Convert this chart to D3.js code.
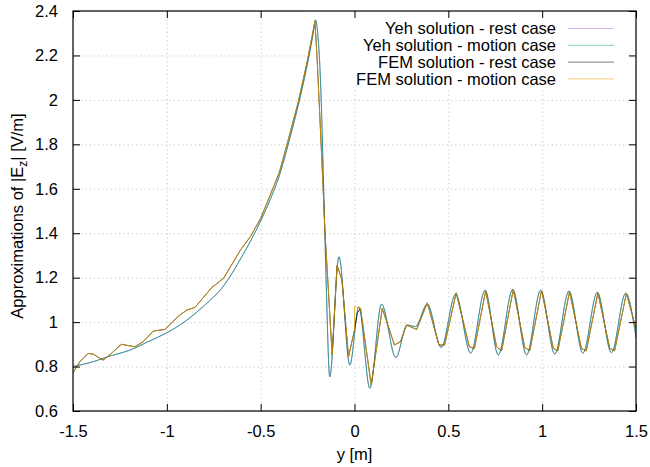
<!DOCTYPE html>
<html>

<head>
    <meta charset=utf-8 />
    <title>Approximations of |Ez|</title>
    <script src="https://cdn.jsdelivr.net/npm/d3@7"></script>
    <style>
        html,
        body {
            margin: 0;
            padding: 0;
            background: #fff;
        }

        svg text {
            font-family: "Liberation Sans", Arial, sans-serif;
            font-size: 16.5px;
            fill: #000;
        }

        .grid line {
            stroke: #c8c8c8;
            stroke-dasharray: 1.2, 3;
        }

        .grid path {
            display: none;
        }
    </style>
</head>

<body>
    <div id="svg-canvas"></div>
    <script>
        // tick values of both axes
        var xTicks = [-1.5, -1, -0.5, 0, 0.5, 1, 1.5];
        var yTicks = [0.6, 0.8, 1, 1.2, 1.4, 1.6, 1.8, 2, 2.2, 2.4];

        // series names, in drawing order
        var seriesNames = [
            'Yeh solution - rest case',
            'Yeh solution - motion case',
            'FEM solution - rest case',
            'FEM solution - motion case'
        ];
        var seriesColors = ['#9400d3', '#009e73', '#000000', '#e69f00'];
        var lineOpacity = [0.45, 0.75, 0.75, 0.75];
        var keyOpacity = [0.3, 0.5, 0.5, 0.55];

        // [y, |Ez|]
        var yehSolution = [
            [-1.5, 0.80], [-1.4, 0.82], [-1.3, 0.848], [-1.2, 0.873], [-1.1, 0.912],
            [-1.0, 0.952], [-0.9, 1.005], [-0.8, 1.075], [-0.7, 1.16], [-0.6, 1.295],
            [-0.5, 1.455], [-0.45, 1.55], [-0.4, 1.66], [-0.35, 1.81], [-0.3, 1.975],
            [-0.25, 2.165], [-0.22, 2.30], [-0.208, 2.36], [-0.196, 2.30], [-0.18, 2.06],
            [-0.163, 1.56], [-0.15, 1.15], [-0.132, 0.754], [-0.083, 1.294], [-0.025, 0.807],
            [0.023, 1.069], [0.082, 0.702], [0.144, 1.081], [0.22, 0.841], [0.281, 0.987],
            [0.325, 0.98], [0.388, 1.081], [0.462, 0.886], [0.539, 1.126], [0.619, 0.86],
            [0.696, 1.144], [0.766, 0.852], [0.843, 1.147], [0.917, 0.852], [0.992, 1.144],
            [1.067, 0.856], [1.143, 1.14], [1.217, 0.86], [1.294, 1.134], [1.369, 0.862],
            [1.445, 1.13], [1.5, 0.93]
        ];

        var femRest = [
            [-1.5, 0.772], [-1.463, 0.822], [-1.42, 0.859], [-1.393, 0.856], [-1.34, 0.829],
            [-1.305, 0.852], [-1.242, 0.90], [-1.17, 0.889], [-1.126, 0.912], [-1.072, 0.96],
            [-1.01, 0.967], [-0.938, 1.027], [-0.894, 1.054], [-0.85, 1.066], [-0.76, 1.156],
            [-0.698, 1.197], [-0.608, 1.324], [-0.555, 1.384], [-0.5, 1.467], [-0.45, 1.57],
            [-0.4, 1.675], [-0.35, 1.83], [-0.3, 1.99], [-0.25, 2.18], [-0.211, 2.352],
            [-0.2, 2.2], [-0.185, 1.93], [-0.168, 1.62], [-0.158, 1.414], [-0.119, 0.852],
            [-0.093, 1.257], [-0.067, 1.19], [-0.032, 0.844], [0.0, 0.964], [0.015, 1.04],
            [0.032, 1.062], [0.089, 0.717], [0.148, 1.062], [0.213, 0.897], [0.245, 0.912],
            [0.277, 0.987], [0.331, 0.967], [0.388, 1.087], [0.45, 0.897], [0.48, 0.897],
            [0.542, 1.132], [0.612, 0.889], [0.639, 0.882], [0.699, 1.141], [0.757, 0.889],
            [0.784, 0.871], [0.846, 1.147], [0.907, 0.886], [0.934, 0.871], [0.997, 1.144],
            [1.059, 0.882], [1.083, 0.87], [1.146, 1.137], [1.209, 0.882], [1.235, 0.87],
            [1.297, 1.132], [1.36, 0.882], [1.386, 0.871], [1.449, 1.13], [1.5, 0.97]
        ];

        // motion case: same mesh, with the jump at y = 0
        var femMotion = femRest.filter(d => d[0] !== 0.015);
        femMotion.splice(femMotion.findIndex(d => d[0] === 0.0) + 1, 0, [0.0, 1.069]);

        var margin = { top: 11, right: 14, bottom: 56, left: 73 };
        var width = 650 - margin.left - margin.right;
        var height = 467 - margin.top - margin.bottom;

        var svg = d3.select('#svg-canvas').append('svg')
            .attr('width', 650)
            .attr('height', 467);

        var canvas = svg.append('g')
            .attr('transform', 'translate(' + margin.left + ',' + margin.top + ')');

        var x = d3.scaleLinear().domain([-1.5, 1.5]).range([0, width]);
        var y = d3.scaleLinear().domain([0.6, 2.4]).range([height, 0]);

        // grid
        canvas.append('g')
            .attr('class', 'grid')
            .attr('transform', `translate(0, ${height})`)
            .call(d3.axisBottom(x).tickValues(xTicks).tickSize(-height).tickFormat(''));
        canvas.append('g')
            .attr('class', 'grid')
            .call(d3.axisLeft(y).tickValues(yTicks).tickSize(-width).tickFormat(''));

        // key area blanks the grid
        canvas.append('rect')
            .attr('x', 306 - margin.left)
            .attr('y', 0)
            .attr('width', 628 - 306)
            .attr('height', 88 - margin.top)
            .attr('fill', '#fff');

        canvas.append('clipPath').attr('id', 'plot-clip')
            .append('rect').attr('width', width).attr('height', height);

        var smooth = d3.line().x(d => x(d[0])).y(d => y(d[1])).curve(d3.curveMonotoneX);
        var straight = d3.line().x(d => x(d[0])).y(d => y(d[1]));

        var seriesData = [yehSolution, yehSolution, femRest, femMotion];
        var seriesLine = [smooth, smooth, straight, straight];

        var lines = canvas.append('g').attr('clip-path', 'url(#plot-clip)');
        seriesData.forEach(function (data, i) {
            lines.append('path')
                .datum(data)
                .attr('d', seriesLine[i])
                .attr('fill', 'none')
                .attr('stroke', seriesColors[i])
                .attr('stroke-width', 1)
                .attr('stroke-opacity', lineOpacity[i]);
        });

        // axes, ticks inward on all four sides
        var fmt = d => String(d);
        canvas.append('g')
            .attr('transform', `translate(0, ${height})`)
            .call(d3.axisBottom(x).tickValues(xTicks).tickSize(-7).tickPadding(14).tickFormat(fmt));
        canvas.append('g')
            .call(d3.axisTop(x).tickValues(xTicks).tickSize(-7).tickFormat(''));
        canvas.append('g')
            .call(d3.axisLeft(y).tickValues(yTicks).tickSize(-7).tickPadding(15).tickFormat(fmt));
        canvas.append('g')
            .attr('transform', `translate(${width}, 0)`)
            .call(d3.axisRight(y).tickValues(yTicks).tickSize(-7).tickFormat(''));

        canvas.selectAll('.domain').remove();
        canvas.selectAll('.tick text').attr('font-size', null).attr('font-family', null);

        canvas.append('rect')
            .attr('width', width)
            .attr('height', height)
            .attr('fill', 'none')
            .attr('stroke', '#000')
            .attr('stroke-width', 1.2);

        // axis titles
        canvas.append('text')
            .attr('x', width / 2)
            .attr('y', height + 49)
            .attr('text-anchor', 'middle')
            .text('y [m]');

        var ylab = svg.append('text')
            .attr('transform', 'translate(23,' + (margin.top + height / 2 + 5) + ') rotate(-90)')
            .attr('text-anchor', 'middle');
        ylab.append('tspan').text('Approximations of |E');
        ylab.append('tspan').attr('font-size', '12px').attr('dy', 4).text('z');
        ylab.append('tspan').attr('dy', -4).text('| [V/m]');

        // key
        var key = svg.append('g');
        seriesNames.forEach(function (name, i) {
            var cy = 28.5 + i * 16.8;
            key.append('text')
                .attr('x', 556)
                .attr('y', cy)
                .attr('dy', '0.35em')
                .attr('text-anchor', 'end')
                .text(name);
            key.append('line')
                .attr('x1', 568).attr('x2', 614)
                .attr('y1', cy).attr('y2', cy)
                .attr('stroke', seriesColors[i])
                .attr('stroke-opacity', keyOpacity[i]);
        });
    </script>
</body>

</html>
